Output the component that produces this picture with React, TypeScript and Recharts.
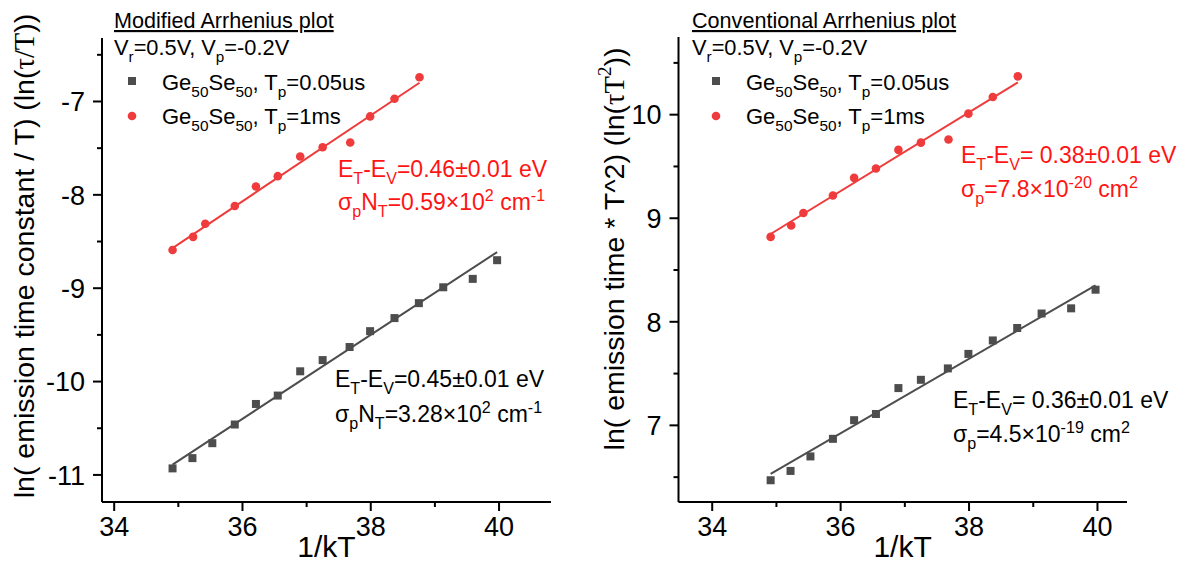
import React from "react";
import { ScatterChart, Scatter, XAxis, YAxis } from "recharts";

const FONT = '"Liberation Sans", Arial, sans-serif';
const SERIF = '"Liberation Serif", "DejaVu Serif", serif';

// 1/kT (eV^-1) for both measurement sets
const shortPulseX = [34.91, 35.22, 35.53, 35.88, 36.21, 36.55, 36.9, 37.25, 37.67, 37.99, 38.37, 38.75, 39.13, 39.59, 39.97];
const longPulseX = [34.91, 35.23, 35.42, 35.88, 36.21, 36.55, 36.9, 37.25, 37.68, 37.99, 38.37, 38.76];

// ln(tau/T)
const modShortY = [-10.93, -10.82, -10.66, -10.46, -10.24, -10.15, -9.89, -9.77, -9.63, -9.46, -9.32, -9.16, -8.99, -8.9, -8.7];
const modLongY = [-8.59, -8.45, -8.31, -8.12, -7.91, -7.8, -7.59, -7.49, -7.44, -7.16, -6.97, -6.74];

// ln(tau*T^2)
const convShortY = [6.47, 6.56, 6.7, 6.87, 7.05, 7.11, 7.36, 7.44, 7.55, 7.69, 7.82, 7.94, 8.08, 8.13, 8.31];
const convLongY = [8.82, 8.93, 9.05, 9.22, 9.39, 9.48, 9.66, 9.73, 9.76, 10.01, 10.17, 10.37];

// activation energies (eV) = slopes of the fitted lines
const modShortEa = 0.45;
const modLongEa = 0.46;
const convShortEa = 0.36;
const convLongEa = 0.38;

// fit line start values (at the first point)
const modShortFit0 = -10.89;
const modLongFit0 = -8.57;
const convShortFit0 = 6.531;
const convLongFit0 = 8.848;

const xTicks = [34, 35, 36, 37, 38, 39, 40];
const modYTicks = [-11, -10.5, -10, -9.5, -9, -8.5, -8, -7.5, -7, -6.5];
const convYTicks = [6.5, 7, 7.5, 8, 8.5, 9, 9.5, 10, 10.5];

const GREY = "#4d4d4d";
const RED = "#ef3b3b";
const TEXT_RED = "#ff1414";

const pts = (xs: number[], ys: number[]) => xs.map((x, i) => ({ x, y: ys[i] }));
const fit = (xs: number[], y0: number, slope: number) => {
  const x0 = xs[0];
  const x1 = xs[xs.length - 1];
  return [
    { x: x0, y: y0 },
    { x: x1, y: y0 + slope * (x1 - x0) },
  ];
};

const Square = (p: any) => <rect x={p.cx - 4} y={p.cy - 4} width={8} height={8} fill={GREY} />;
const Dot = (p: any) => <circle cx={p.cx} cy={p.cy} r={4.3} fill={RED} />;
const NoShape = () => <g />;

const YTick = (p: any) => {
  const v = p.payload.value;
  const major = Number.isInteger(v);
  return (
    <g>
      <line x1={p.x} x2={p.x - (major ? 9 : 5)} y1={p.y} y2={p.y} stroke="#000" strokeWidth={2} />
      {major && (
        <text x={p.x - 17} y={p.y} dy="0.36em" textAnchor="end" fontFamily={FONT} fontSize={27} fill="#000">
          {v}
        </text>
      )}
    </g>
  );
};

const XTick = (p: any) => {
  const v = p.payload.value;
  const major = v % 2 === 0;
  return (
    <g>
      <line x1={p.x} x2={p.x} y1={p.y} y2={p.y + (major ? 9 : 5)} stroke="#000" strokeWidth={2} />
      {major && (
        <text x={p.x} y={p.y + 34} textAnchor="middle" fontFamily={FONT} fontSize={27} fill="#000">
          {v}
        </text>
      )}
    </g>
  );
};

type Part = [string, "n" | "sub" | "sup" | "serif"];

const Rich = ({ x, y, size, fill = "#000", parts, underline = false }: { x: number; y: number; size: number; fill?: string; parts: Part[]; underline?: boolean }) => {
  let shift = 0;
  const spans = parts.map(([t, k], i) => {
    const target = k === "sub" ? size * 0.3 : k === "sup" ? -size * 0.4 : 0;
    const dy = target - shift;
    shift = target;
    const small = k === "sub" || k === "sup";
    return (
      <tspan key={i} dy={dy} fontSize={small ? size * 0.7 : size} fontFamily={k === "serif" ? SERIF : FONT}>
        {t}
      </tspan>
    );
  });
  return (
    <text x={x} y={y} fill={fill} fontSize={size} fontFamily={FONT} style={{ whiteSpace: "pre", textDecoration: underline ? "underline" : "none" }}>
      {spans}
    </text>
  );
};

const legendShort: Part[] = [["Ge", "n"], ["50", "sub"], ["Se", "n"], ["50", "sub"], [", T", "n"], ["p", "sub"], ["=0.05us", "n"]];
const legendLong: Part[] = [["Ge", "n"], ["50", "sub"], ["Se", "n"], ["50", "sub"], [", T", "n"], ["p", "sub"], ["=1ms", "n"]];
const biasLine: Part[] = [["V", "n"], ["r", "sub"], ["=0.5V, V", "n"], ["p", "sub"], ["=-0.2V", "n"]];
const energy = (txt: string): Part[] => [["E", "n"], ["T", "sub"], ["-E", "n"], ["V", "sub"], [txt, "n"]];

const ModYLabel = () => (
  <text transform="rotate(-90 24 256)" x={24} y={256} textAnchor="middle" dominantBaseline="central" fontFamily={FONT} fontSize={28.5} fill="#000">
    ln( emission time constant / T) (ln(<tspan fontFamily={SERIF}>τ/T</tspan>))
  </text>
);

const ConvYLabel = () => (
  <text transform="rotate(-90 24 249)" x={24} y={249} textAnchor="middle" dominantBaseline="central" fontFamily={FONT} fontSize={28.5} fill="#000">
    ln( emission time * T^2) (ln(<tspan fontFamily={SERIF}>τT</tspan>
    <tspan dy={-10} fontSize={19} fontFamily={SERIF}>2</tspan>
    <tspan dy={10}>))</tspan>
  </text>
);

const XLabel = ({ cx }: { cx: number }) => (
  <text x={cx} y={557} textAnchor="middle" fontFamily={FONT} fontSize={30} fill="#000">
    1/kT
  </text>
);

export default function App() {
  return (
    <div style={{ position: "absolute", left: 0, top: 0, width: 1181, height: 565, background: "#fff" }}>
      <div style={{ position: "absolute", left: 0, top: 0 }}>
        <ScatterChart width={580} height={565} margin={{ top: 38, right: 29, bottom: 0, left: 0 }}>
          <XAxis type="number" dataKey="x" domain={[33.81, 40.81]} allowDataOverflow ticks={xTicks} interval={0} height={63} tickSize={0} tickMargin={0} tickLine={false} tick={<XTick />} axisLine={{ stroke: "#000", strokeWidth: 2 }} label={<XLabel cx={326.5} />} />
          <YAxis type="number" dataKey="y" domain={[-11.29, -6.32]} allowDataOverflow ticks={modYTicks} interval={0} width={102} tickSize={0} tickMargin={0} tickLine={false} tick={<YTick />} axisLine={{ stroke: "#000", strokeWidth: 2 }} label={<ModYLabel />} />
          <Scatter data={fit(shortPulseX, modShortFit0, modShortEa)} line={{ stroke: GREY, strokeWidth: 2 }} shape={<NoShape />} isAnimationActive={false} />
          <Scatter data={fit(longPulseX, modLongFit0, modLongEa)} line={{ stroke: RED, strokeWidth: 2 }} shape={<NoShape />} isAnimationActive={false} />
          <Scatter data={pts(shortPulseX, modShortY)} shape={<Square />} isAnimationActive={false} />
          <Scatter data={pts(longPulseX, modLongY)} shape={<Dot />} isAnimationActive={false} />
        </ScatterChart>
      </div>
      <div style={{ position: "absolute", left: 590, top: 0 }}>
        <ScatterChart width={591} height={565} margin={{ top: 37, right: 54, bottom: 0, left: 0 }}>
          <XAxis type="number" dataKey="x" domain={[33.475, 40.46]} allowDataOverflow ticks={xTicks} interval={0} height={63} tickSize={0} tickMargin={0} tickLine={false} tick={<XTick />} axisLine={{ stroke: "#000", strokeWidth: 2 }} label={<XLabel cx={312.6} />} />
          <YAxis type="number" dataKey="y" domain={[6.26, 10.75]} allowDataOverflow ticks={convYTicks} interval={0} width={88.5} tickSize={0} tickMargin={0} tickLine={false} tick={<YTick />} axisLine={{ stroke: "#000", strokeWidth: 2 }} label={<ConvYLabel />} />
          <Scatter data={fit(shortPulseX, convShortFit0, convShortEa)} line={{ stroke: GREY, strokeWidth: 2 }} shape={<NoShape />} isAnimationActive={false} />
          <Scatter data={fit(longPulseX, convLongFit0, convLongEa)} line={{ stroke: RED, strokeWidth: 2 }} shape={<NoShape />} isAnimationActive={false} />
          <Scatter data={pts(shortPulseX, convShortY)} shape={<Square />} isAnimationActive={false} />
          <Scatter data={pts(longPulseX, convLongY)} shape={<Dot />} isAnimationActive={false} />
        </ScatterChart>
      </div>
      <svg width={1181} height={565} style={{ position: "absolute", left: 0, top: 0, pointerEvents: "none" }}>
        {/* left panel: titles, legend, fit results */}
        <Rich x={114} y={28} size={21.6} parts={[["Modified Arrhenius plot", "n"]]} underline />
        <Rich x={114} y={55} size={21.8} parts={biasLine} />
        <rect x={128} y={77} width={8} height={8} fill={GREY} />
        <Rich x={162} y={90} size={22} parts={legendShort} />
        <circle cx={132} cy={116} r={4.3} fill={RED} />
        <Rich x={162} y={124} size={22} parts={legendLong} />
        <Rich x={338} y={177} size={23} fill={TEXT_RED} parts={energy("=0.46±0.01 eV")} />
        <Rich x={338} y={210} size={23} fill={TEXT_RED} parts={[["σ", "n"], ["p", "sub"], ["N", "n"], ["T", "sub"], ["=0.59×10", "n"], ["2", "sup"], [" cm", "n"], ["-1", "sup"]]} />
        <Rich x={335} y={387} size={23} parts={energy("=0.45±0.01 eV")} />
        <Rich x={335} y={422} size={23} parts={[["σ", "n"], ["p", "sub"], ["N", "n"], ["T", "sub"], ["=3.28×10", "n"], ["2", "sup"], [" cm", "n"], ["-1", "sup"]]} />

        {/* right panel */}
        <Rich x={692} y={28} size={21.6} parts={[["Conventional Arrhenius plot", "n"]]} underline />
        <Rich x={692} y={55} size={21.8} parts={biasLine} />
        <rect x={712} y={77} width={8} height={8} fill={GREY} />
        <Rich x={746} y={90} size={22} parts={legendShort} />
        <circle cx={716} cy={116} r={4.3} fill={RED} />
        <Rich x={746} y={124} size={22} parts={legendLong} />
        <Rich x={961} y={163} size={23} fill={TEXT_RED} parts={energy("= 0.38±0.01 eV")} />
        <Rich x={961} y={197} size={23} fill={TEXT_RED} parts={[["σ", "n"], ["p", "sub"], ["=7.8×10", "n"], ["-20", "sup"], [" cm", "n"], ["2", "sup"]]} />
        <Rich x={953} y={408} size={23} parts={energy("= 0.36±0.01 eV")} />
        <Rich x={953} y={442} size={23} parts={[["σ", "n"], ["p", "sub"], ["=4.5×10", "n"], ["-19", "sup"], [" cm", "n"], ["2", "sup"]]} />
      </svg>
    </div>
  );
}
